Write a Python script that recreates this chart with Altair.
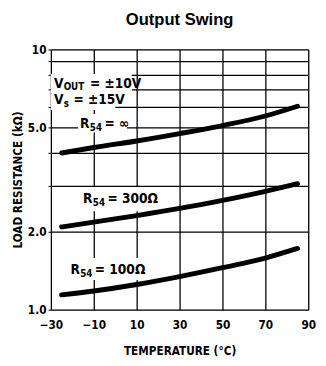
import altair as alt
import pandas as pd

temps = [-25, -10, 10, 30, 50, 70, 85]
r_inf = [4.0, 4.2, 4.45, 4.75, 5.1, 5.55, 6.05]
r_300 = [2.08, 2.17, 2.3, 2.45, 2.63, 2.85, 3.05]
r_100 = [1.14, 1.18, 1.25, 1.34, 1.45, 1.58, 1.72]
series_names = ["R54 = inf", "R54 = 300", "R54 = 100"]
x_ticks = list(range(-30, 91, 10))
y_ticks = [1, 2, 3, 4, 5, 6, 7, 8, 9, 10]

rows = []
for name, vals in zip(series_names, [r_inf, r_300, r_100]):
    for t, v in zip(temps, vals):
        rows.append({"temp": t, "res": v, "series": name})
df = pd.DataFrame(rows)

FONT = "'DejaVu Sans Condensed', 'Liberation Sans', sans-serif"
FONT2 = "'Liberation Sans', Arial, sans-serif"

xs = alt.Scale(domain=[-30, 90], nice=False, zero=False, padding=0)
ys = alt.Scale(type="log", domain=[1, 10], nice=False, padding=0)

x_axis = alt.Axis(
    values=x_ticks, grid=True, gridColor="black", gridWidth=1.3, gridOpacity=1,
    ticks=False, domain=False, labelPadding=10, labelFont=FONT, labelFontSize=12,
    labelFontWeight="bold", labelColor="black", labelFlush=False,
    labelExpr="(datum.value + 30) % 20 == 0 ? replace(format(datum.value, 'd'), '-', '\u2212') : ''",
    title="TEMPERATURE (\u00b0C)", titleFont=FONT, titleFontSize=12,
    titleFontWeight="bold", titleColor="black", titlePadding=16,
)
y_axis = alt.Axis(
    values=y_ticks, grid=True, gridColor="black", gridWidth=1.3, gridOpacity=1,
    ticks=True, tickSize=3, tickColor="black", tickWidth=1, domain=False,
    labelPadding=2, labelFont=FONT, labelFontSize=12, labelFontWeight="bold",
    labelColor="black", labelFlush=False,
    labelExpr="datum.value == 10 ? '10' : (indexof([1,2,5], datum.value) >= 0 ? format(datum.value, '.1f') : '')",
    title="LOAD RESISTANCE (k\u03a9)", titleFont=FONT, titleFontSize=12,
    titleFontWeight="bold", titleColor="black", titlePadding=3,
)

base = alt.Chart(df)

lines = base.mark_line(
    color="black", strokeWidth=5, strokeCap="round", interpolate="monotone"
).encode(
    x=alt.X("temp:Q", scale=xs, axis=x_axis),
    y=alt.Y("res:Q", scale=ys, axis=y_axis),
    detail="series:N",
)

boxes = pd.DataFrame({
    "x1": [-30, -30, -17.3, -17.3, -22.7],
    "x2": [7.7, 0, 5.5, 16.8, 10.9],
    "y1": [8.05, 6.77, 5.65, 2.96, 1.58],
    "y2": [6.77, 5.85, 4.80, 2.39, 1.30],
})
bg = alt.Chart(boxes).mark_rect(color="white").encode(
    x=alt.X("x1:Q", scale=xs), x2="x2:Q",
    y=alt.Y("y1:Q", scale=ys), y2="y2:Q",
)

def txt(t, x, y, size, dx=0, dy=0):
    return alt.Chart(pd.DataFrame({"t": [t], "x": [x], "y": [y]})).mark_text(
        align="left", baseline="alphabetic", font=FONT, fontWeight="bold",
        fontSize=size, color="black", dx=dx, dy=dy,
    ).encode(x=alt.X("x:Q", scale=xs), y=alt.Y("y:Q", scale=ys), text="t:N")

big, small = 14, 10
labels = [
    txt("V", -28.6, 7.12, big),
    txt("OUT", -28.6, 7.12, small, dx=10, dy=2),
    txt("= \u00b110V", -28.6, 7.12, big, dx=37),
    txt("V", -28.6, 6.15, big),
    txt("s", -28.6, 6.15, small, dx=10, dy=3),
    txt("= \u00b115V", -28.6, 6.15, big, dx=20),
    txt("R", -16.4, 4.98, big),
    txt("54", -16.4, 4.98, small, dx=10, dy=3),
    txt("= \u221e", -16.4, 4.98, big, dx=25),
    txt("R", -15.0, 2.56, big),
    txt("54", -15.0, 2.56, small, dx=10, dy=3),
    txt("= 300\u03a9", -15.0, 2.56, big, dx=25),
    txt("R", -20.9, 1.37, big),
    txt("54", -20.9, 1.37, small, dx=10, dy=3),
    txt("= 100\u03a9", -20.9, 1.37, big, dx=25),
]

chart = alt.layer(bg, lines, *labels).properties(
    width=264, height=267,
    title=alt.TitleParams("Output Swing", font=FONT2, fontSize=17,
                          fontWeight="bold", color="black", anchor="middle", offset=15),
    autosize=alt.AutoSizeParams(type="none"),
    padding={"left": 44, "top": 38, "right": 10, "bottom": 45},
).configure_view(stroke="black", strokeWidth=2).configure(background="white")

chart.save("out.html", embed_options={"renderer": "svg", "actions": False})
